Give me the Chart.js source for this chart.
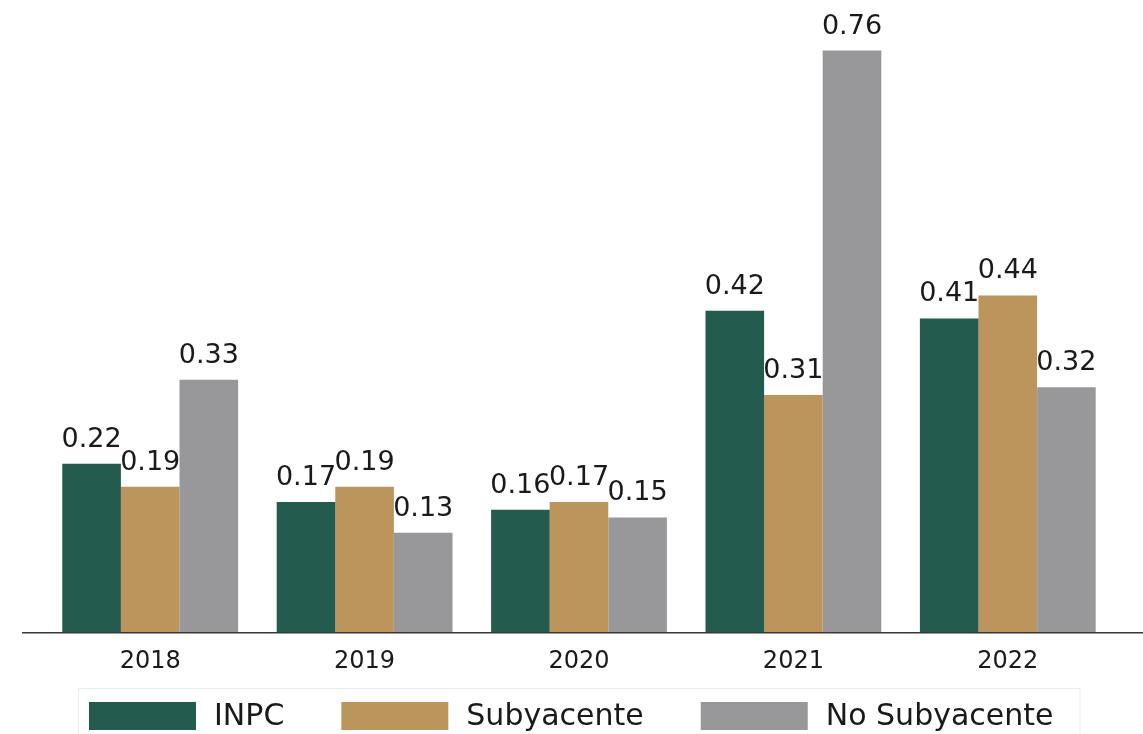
<!DOCTYPE html>
<html>
<head>
<meta charset="utf-8">
<script src="https://cdn.jsdelivr.net/npm/chart.js@4.4.1/dist/chart.umd.min.js"></script>
<style>
  html, body { margin: 0; padding: 0; background: #ffffff; }
  #wrap { width: 1143px; height: 734px; position: relative; }
</style>
</head>
<body>
<div id="wrap"><canvas id="c" width="1143" height="734"></canvas></div>
<script>
const categories = ['2018', '2019', '2020', '2021', '2022'];
const inpc = [0.22, 0.17, 0.16, 0.42, 0.41];
const subyacente = [0.19, 0.19, 0.17, 0.31, 0.44];
const noSubyacente = [0.33, 0.13, 0.15, 0.76, 0.32];
const seriesNames = ['INPC', 'Subyacente', 'No Subyacente'];
const seriesColors = ['#235B4E', '#BC955C', '#98989A'];

const FONT = "'DejaVu Sans', sans-serif";

const valueLabels = {
  id: 'valueLabels',
  afterDatasetsDraw(chart) {
    const ctx = chart.ctx;
    ctx.save();
    ctx.font = '27px ' + FONT;
    ctx.fillStyle = '#1a1a1a';
    ctx.textAlign = 'center';
    ctx.textBaseline = 'alphabetic';
    chart.data.datasets.forEach((ds, i) => {
      const meta = chart.getDatasetMeta(i);
      meta.data.forEach((bar, j) => {
        ctx.fillText(ds.data[j].toFixed(2), bar.x, bar.y - 17);
      });
    });
    ctx.restore();
  }
};

const axisLine = {
  id: 'axisLine',
  afterDatasetsDraw(chart) {
    const ctx = chart.ctx;
    const y = chart.scales.y.getPixelForValue(0);
    ctx.save();
    ctx.strokeStyle = '#3a3a3a';
    ctx.lineWidth = 1.5;
    ctx.beginPath();
    ctx.moveTo(22, y + 0.5);
    ctx.lineTo(1143, y + 0.5);
    ctx.stroke();
    ctx.restore();
  }
};

// Custom legend drawn from the dataset labels and colours
const customLegend = {
  id: 'customLegend',
  afterDraw(chart) {
    const ctx = chart.ctx;
    const boxW = 107, boxH = 28, gapText = 18, gapItem = 57;
    const boxTop = 702, midY = 716;
    ctx.save();
    ctx.font = '30px ' + FONT;
    const items = chart.data.datasets.map(ds => ({
      label: ds.label, color: ds.backgroundColor, tw: ctx.measureText(ds.label).width
    }));
    let total = 0;
    items.forEach((it, i) => { total += boxW + gapText + it.tw + (i < items.length - 1 ? gapItem : 0); });
    let x = Math.round(chart.width / 2 - total / 2);
    const startX = x;
    ctx.strokeStyle = '#e6eded';
    ctx.lineWidth = 1;
    ctx.strokeRect(startX - 10.5, 688.5, total + 37, 60);
    ctx.textBaseline = 'middle';
    ctx.textAlign = 'left';
    items.forEach(it => {
      ctx.fillStyle = it.color;
      ctx.fillRect(x, boxTop, boxW, boxH);
      ctx.fillStyle = '#1a1a1a';
      ctx.fillText(it.label, x + boxW + gapText, midY + 1);
      x += boxW + gapText + it.tw + gapItem;
    });
    ctx.restore();
  }
};

new Chart(document.getElementById('c'), {
  type: 'bar',
  data: {
    labels: categories,
    datasets: [
      { label: seriesNames[0], data: inpc, backgroundColor: seriesColors[0] },
      { label: seriesNames[1], data: subyacente, backgroundColor: seriesColors[1] },
      { label: seriesNames[2], data: noSubyacente, backgroundColor: seriesColors[2] }
    ]
  },
  options: {
    responsive: false,
    animation: false,
    devicePixelRatio: 1,
    layout: { padding: { left: 43, right: 28, top: 20, bottom: 43 } },
    datasets: { bar: { barPercentage: 1.0, categoryPercentage: 0.82, borderWidth: 0 } },
    scales: {
      x: {
        grid: { display: false, drawTicks: false },
        border: { display: false },
        ticks: { color: '#1a1a1a', font: { family: FONT, size: 24 }, padding: 15 }
      },
      y: {
        display: false,
        min: 0,
        max: 0.8
      }
    },
    plugins: {
      legend: { display: false },
      tooltip: { enabled: false }
    }
  },
  plugins: [valueLabels, axisLine, customLegend]
});
</script>
</body>
</html>
